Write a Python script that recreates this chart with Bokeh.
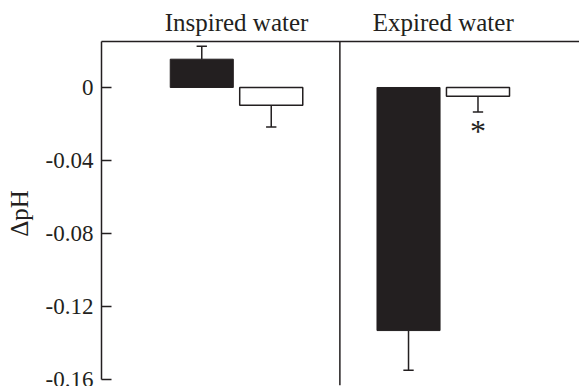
import numpy as np
from bokeh.plotting import figure
from bokeh.models import (ColumnDataSource, Range1d, LinearAxis, FixedTicker, Span)
from bokeh.core.properties import value
from bokeh.embed import file_html
from bokeh.resources import INLINE

# ---- data ----
groups = ["Inspired water", "Expired water"]
group_pos = [1, 2]
black_means = [0.0155, -0.1332]
black_errs = [0.0071, 0.0218]
white_means = [-0.0097, -0.0048]
white_errs = [0.0120, 0.0087]
significant = [False, True]   # asterisk under white bar
y_ticks = [0, -0.04, -0.08, -0.12, -0.16]
y_tick_labels = ["0", "-0.04", "-0.08", "-0.12", "-0.16"]

INK = "#231f20"
FONT = "Liberation Serif"

bar_w = 0.305
offset = 0.168
cap = 0.05

p = figure(width=579, height=386, frame_width=478, frame_height=344,
           x_range=Range1d(0.347, 2.659), y_range=Range1d(-0.1633, 0.0252),
           output_backend="svg", toolbar_location=None,
           min_border_left=101, min_border_top=41, min_border_right=0, min_border_bottom=1,
           x_axis_location=None, y_axis_location=None)
p.outline_line_color = None
p.grid.grid_line_color = None
p.background_fill_color = "white"
p.border_fill_color = "white"

# left axis
ya = LinearAxis(ticker=FixedTicker(ticks=y_ticks),
                major_label_overrides={t: l for t, l in zip(y_ticks, y_tick_labels)},
                bounds=(min(y_ticks), 0.0252))
ya.axis_label = "ΔpH"
ya.axis_line_color = INK
ya.axis_line_width = 1.5
ya.major_tick_line_color = INK
ya.major_tick_line_width = 1.5
ya.major_tick_in = 10
ya.major_tick_out = 0
ya.minor_tick_line_color = None
ya.minor_tick_in = 0
ya.minor_tick_out = 0
ya.major_label_text_font = FONT
ya.major_label_text_font_size = "23px"
ya.major_label_text_color = INK
ya.major_label_standoff = 8
ya.axis_label_text_font = FONT
ya.axis_label_text_font_size = "25px"
ya.axis_label_text_font_style = "normal"
ya.axis_label_text_color = INK
ya.axis_label_standoff = 10
p.add_layout(ya, "left")

# top axis with group titles
xa = LinearAxis(ticker=FixedTicker(ticks=group_pos),
                major_label_overrides={g: n for g, n in zip(group_pos, groups)})
xa.axis_line_color = INK
xa.axis_line_width = 1.5
xa.major_tick_line_color = None
xa.major_tick_in = 0
xa.major_tick_out = 0
xa.minor_tick_line_color = None
xa.minor_tick_in = 0
xa.minor_tick_out = 0
xa.major_label_text_font = FONT
xa.major_label_text_font_size = "25px"
xa.major_label_text_color = INK
xa.major_label_standoff = 6
p.add_layout(xa, "above")

# divider
p.add_layout(Span(location=1.5, dimension="height", line_color=INK, line_width=1.5))

gp = np.array(group_pos, dtype=float)
bm = np.array(black_means); be = np.array(black_errs)
wm = np.array(white_means); we = np.array(white_errs)

bx = gp - offset
wx = gp + offset

# error bars (drawn away from zero)
b_end = bm + np.sign(bm) * be
w_end = wm + np.sign(wm) * we
err = ColumnDataSource(dict(x=np.concatenate([bx, wx]),
                            y0=np.concatenate([bm, wm]),
                            y1=np.concatenate([b_end, w_end])))
p.segment(x0="x", y0="y0", x1="x", y1="y1", source=err, line_color=INK, line_width=1.5)
cap_src = ColumnDataSource(dict(x0=np.concatenate([bx, wx]) - cap / 2,
                                x1=np.concatenate([bx, wx]) + cap / 2,
                                y=np.concatenate([b_end, w_end])))
p.segment(x0="x0", y0="y", x1="x1", y1="y", source=cap_src, line_color=INK, line_width=1.5)

# bars
p.vbar(x=bx, top=bm, bottom=0, width=bar_w, fill_color=INK, line_color=INK, line_width=1)
p.vbar(x=wx, top=wm, bottom=0, width=bar_w, fill_color="white", line_color=INK, line_width=1.5)

# significance marker
sig_x = [x for x, s in zip(wx, significant) if s]
sig_y = [e - 0.0105 for e, s in zip(w_end, significant) if s]
p.text(x=sig_x, y=sig_y, text=["*"] * len(sig_x), text_align="center", text_baseline="middle",
       text_font=value(FONT), text_font_size="32px", text_color=INK)

open("out.html", "w").write(file_html(p, INLINE))
